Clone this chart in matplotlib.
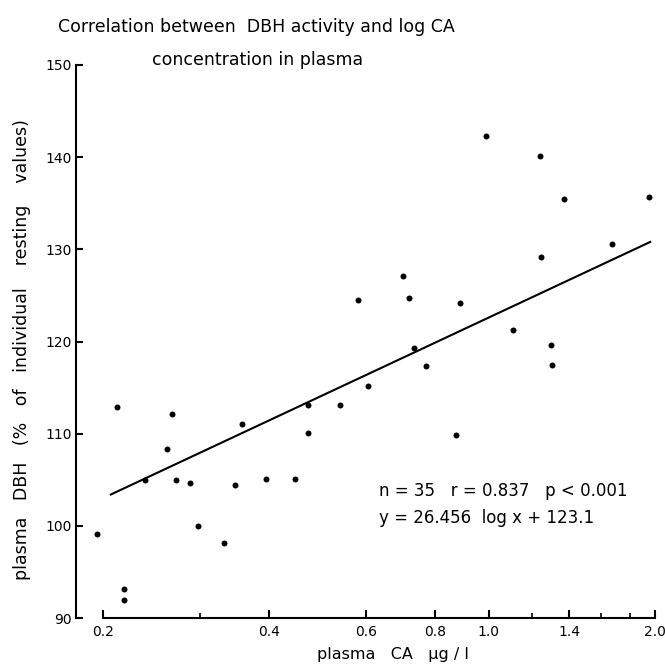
import matplotlib
matplotlib.use("Agg")
import matplotlib.pyplot as plt
from matplotlib.ticker import FixedLocator, FixedFormatter, NullFormatter

# --- data ---
ca = [0.195, 0.2125, 0.219, 0.219, 0.239, 0.262, 0.2675, 0.272, 0.2875, 0.298,
      0.332, 0.348, 0.357, 0.396, 0.4455, 0.470, 0.4715, 0.538, 0.580, 0.605,
      0.6995, 0.716, 0.733, 0.769, 0.872, 0.889, 0.987, 1.106, 1.238, 1.243,
      1.2945, 1.303, 1.370, 1.670, 1.952]
dbh = [99.1, 112.9, 93.1, 92.0, 105.0, 108.3, 112.1, 105.0, 104.6, 100.0,
       98.1, 104.4, 111.1, 105.1, 105.1, 113.1, 110.1, 113.1, 124.5, 115.2,
       127.1, 124.7, 119.3, 117.3, 109.9, 124.2, 142.3, 121.3, 140.1, 129.2,
       119.6, 117.4, 135.5, 130.6, 135.7]
line_x = [0.207, 1.96]
line_y = [103.4, 130.8]

x_major = [0.2, 0.4, 0.6, 0.8, 1.0, 1.4, 2.0]
x_major_labels = ["0.2", "0.4", "0.6", "0.8", "1.0", "1.4", "2.0"]
x_minor = [0.3, 1.2, 1.6, 1.8]
y_ticks = [90, 100, 110, 120, 130, 140, 150]

title1 = "Correlation between  DBH activity and log CA"
title2 = "concentration in plasma"
xlabel = "plasma   CA   µg / l"
ylabel = "plasma   DBH   (%   of   individual    resting    values)"
stats1 = "n = 35   r = 0.837   p < 0.001"
stats2 = "y = 26.456  log x + 123.1"

plt.rcParams['font.family'] = ['DejaVu Sans']

fig = plt.figure(figsize=(6.65, 6.67), dpi=100)
ax = fig.add_axes([76 / 665, 49 / 667, 581.4 / 665, 553 / 667])

ax.plot(ca, dbh, 'o', color='black', markersize=4.3, markeredgewidth=0)
ax.plot(line_x, line_y, '-', color='black', linewidth=1.5)

ax.set_xscale('log')
ax.set_xlim(0.179, 2.02)
ax.set_ylim(90, 150)

ax.spines['top'].set_visible(False)
ax.spines['right'].set_visible(False)
ax.spines['left'].set_bounds(90, 150)
ax.spines['bottom'].set_bounds(0.2, 2.0)
ax.spines['left'].set_linewidth(1.5)
ax.spines['bottom'].set_linewidth(1.5)

ax.xaxis.set_major_locator(FixedLocator(x_major))
ax.xaxis.set_major_formatter(FixedFormatter(x_major_labels))
ax.xaxis.set_minor_locator(FixedLocator(x_minor))
ax.xaxis.set_minor_formatter(NullFormatter())
ax.set_yticks(y_ticks)
ax.set_yticklabels([str(v) for v in y_ticks])

ax.tick_params(axis='x', which='major', direction='in', length=6, width=1.5,
               labelsize=10, pad=5)
ax.tick_params(axis='x', which='minor', direction='in', length=3.5, width=1.2)
ax.tick_params(axis='y', which='major', direction='in', length=5, width=1.5,
               labelsize=10, pad=3)
ax.tick_params(axis='y', which='minor', left=False)

fig.text(393 / 665, 1 - 655 / 667, xlabel, ha='center', va='center', fontsize=11.5)
fig.text(22 / 665, 1 - 350 / 667, ylabel, ha='center', va='center',
         rotation=90, fontsize=12.5)

fig.text(256 / 665, 1 - 27 / 667, title1, ha='center', va='center', fontsize=12.5)
fig.text(258 / 665, 1 - 60 / 667, title2, ha='center', va='center', fontsize=12.5)

fig.text(379 / 665, 1 - 491 / 667, stats1, ha='left', va='center', fontsize=12)
fig.text(379 / 665, 1 - 518 / 667, stats2, ha='left', va='center', fontsize=12)

fig.savefig("out.png", dpi=100)
